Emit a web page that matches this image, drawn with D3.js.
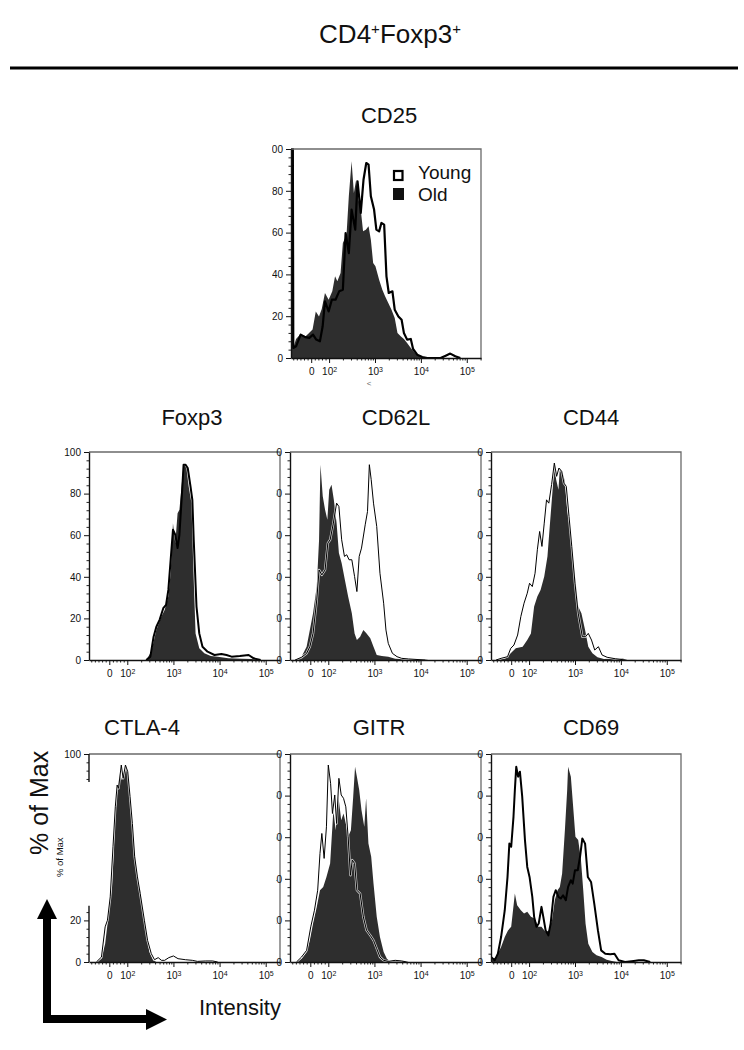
<!DOCTYPE html>
<html><head><meta charset="utf-8">
<script src="https://cdn.jsdelivr.net/npm/d3@7"></script>
<style>body{margin:0;background:#fff} svg{display:block} text{font-family:"Liberation Sans",Arial,Helvetica,sans-serif}</style>
</head><body><svg id="c" width="744" height="1050"></svg>
<script>
// x values are positions on the biexponential display axis, in decades
// (10^2 -> 2, 10^3 -> 3 ...; the "0" tick sits at 1.61, linear region below 10^2); y = % of Max
const xTickPos = [1.61, 2, 3, 4, 5];
const xTickBase = ["0", "10", "10", "10", "10"];
const xTickExp = ["", "2", "3", "4", "5"];
const yTicks = [0, 20, 40, 60, 80, 100];
const panelTitles = ["CD25", "Foxp3", "CD62L", "CD44", "CTLA-4", "GITR", "CD69"];
const legendLabels = ["Young", "Old"];

const cd25Old = [[1.17,100],[1.22,100],[1.23,5.6],[1.28,9.1],[1.38,11.5],[1.49,10.4],[1.58,12.3],[1.64,13.6],[1.71,22.3],[1.78,19.9],[1.84,23.4],[1.91,31.1],[1.99,27.9],[2.07,31.9],[2.13,39.1],[2.18,36.7],[2.25,40.7],[2.30,55.0],[2.38,59.0],[2.43,77.4],[2.49,94.1],[2.54,79.0],[2.59,85.3],[2.64,75.8],[2.69,71.0],[2.74,60.6],[2.80,61.4],[2.86,63.0],[2.91,56.6],[2.96,45.5],[3.01,43.9],[3.09,37.5],[3.16,32.7],[3.22,29.5],[3.29,26.3],[3.36,23.1],[3.43,19.1],[3.49,12.0],[3.56,10.4],[3.63,9.1],[3.70,7.2],[3.78,4.8],[3.88,2.1],[3.99,0.5],[4.10,0]];
const cd25Young = [[1.17,100],[1.21,100],[1.22,4.8],[1.28,5.6],[1.38,11.2],[1.48,10],[1.57,9.6],[1.65,11.2],[1.72,8.8],[1.80,8],[1.86,15.2],[1.91,27.1],[1.99,22.3],[2.06,27.9],[2.14,27.9],[2.22,31.9],[2.30,32.7],[2.36,59.8],[2.43,50.2],[2.49,71],[2.57,61.4],[2.62,84.5],[2.69,69.4],[2.75,85.3],[2.81,93.3],[2.86,92.5],[2.91,77.4],[2.98,71],[3.03,61.4],[3.09,60.6],[3.14,64.6],[3.20,63.8],[3.25,39.1],[3.30,31.1],[3.38,31.9],[3.43,23.1],[3.51,19.9],[3.58,18.3],[3.63,12],[3.70,8.8],[3.78,9.1],[3.83,4.3],[3.92,1.6],[4.03,0.5],[4.14,0],[4.43,0],[4.54,1.1],[4.64,2.1],[4.75,0.8],[4.86,0]];

const foxp3Old = [[2.41,0],[2.52,4],[2.63,14.4],[2.74,20.9],[2.81,24],[2.89,30.5],[2.94,41.7],[2.99,65.8],[3.04,56],[3.09,70.6],[3.13,72.2],[3.19,86.7],[3.22,93.9],[3.28,92.3],[3.33,83.5],[3.39,75.4],[3.43,45],[3.48,12.8],[3.56,5.6],[3.67,3.2],[3.81,1.9],[3.96,1.6],[4.19,0.8],[4.48,0.6],[4.70,0.5],[4.85,0]];
const foxp3Young = [[2.41,0],[2.50,1.6],[2.57,11.2],[2.63,16],[2.70,19.3],[2.78,24.9],[2.84,26.5],[2.89,33.7],[2.94,48.2],[2.99,62.6],[3.04,60.2],[3.09,53.8],[3.13,60.2],[3.19,81.9],[3.22,93.9],[3.26,93.9],[3.31,92.3],[3.37,83.5],[3.41,77],[3.44,57.8],[3.50,25.7],[3.56,12.8],[3.63,6.4],[3.74,4],[3.89,2.4],[4.04,2.9],[4.15,2.4],[4.26,1.6],[4.44,1.9],[4.63,2.4],[4.74,0.8],[4.89,0]];

const cd62lOld = [[1.28,0],[1.42,1.6],[1.53,6.4],[1.60,14.4],[1.67,22.5],[1.75,35.3],[1.80,57.8],[1.83,93.9],[1.88,78.7],[1.93,72.2],[1.98,67.4],[2.02,81.9],[2.07,84.3],[2.12,77],[2.18,65.8],[2.23,51.4],[2.29,46.5],[2.36,38.5],[2.43,30.5],[2.51,22.5],[2.57,12.8],[2.62,9.6],[2.69,11.2],[2.76,14.4],[2.83,12.8],[2.91,10.4],[2.98,6.4],[3.05,2.4],[3.16,1.9],[3.30,1.6],[3.45,0.6],[3.74,0.3],[4.10,0.3],[4.17,0]];
const cd62lYoung = [[1.28,0],[1.42,1.3],[1.53,3.2],[1.60,6.4],[1.67,12.8],[1.75,28.9],[1.80,43.3],[1.86,40.9],[1.93,43.3],[1.99,56.2],[2.04,57.8],[2.11,65.8],[2.18,75.4],[2.23,73.8],[2.29,57.8],[2.35,49.8],[2.40,50.6],[2.45,48.2],[2.51,48.2],[2.57,40.1],[2.62,32.9],[2.67,49.8],[2.72,53.8],[2.80,65],[2.85,71.4],[2.89,93.9],[2.93,86.7],[2.98,75.4],[3.05,64.2],[3.12,41.7],[3.20,27.3],[3.25,14.4],[3.30,8],[3.39,3.2],[3.49,1.6],[3.59,0.8],[3.74,0.5],[4.10,0]];

const cd44Old = [[1.31,0],[1.49,0.8],[1.60,3.2],[1.71,5.6],[1.86,6.4],[1.96,9.6],[2.04,12.8],[2.11,25.7],[2.18,30.5],[2.25,33.7],[2.33,40.1],[2.40,49.8],[2.45,64.2],[2.51,81.1],[2.55,93.9],[2.59,86.7],[2.64,81.9],[2.67,92.3],[2.72,90.7],[2.78,85.9],[2.83,72.2],[2.88,64.2],[2.94,51.4],[3.00,40.1],[3.07,25.7],[3.14,22.5],[3.22,14.4],[3.29,6.4],[3.38,3.2],[3.49,1.3],[3.63,0.5],[4.03,0.8],[4.14,0]];
const cd44Young = [[1.28,0],[1.39,0.8],[1.53,1.6],[1.60,5.6],[1.67,7.2],[1.75,12],[1.82,20.9],[1.89,27.3],[1.96,32.1],[2.01,36.9],[2.07,35.3],[2.13,41.7],[2.18,53],[2.23,61.8],[2.28,54.6],[2.33,65.8],[2.38,77],[2.43,75.4],[2.49,84.3],[2.55,94.7],[2.60,88.3],[2.65,92.3],[2.71,90.7],[2.76,85],[2.81,83.5],[2.87,69],[2.93,54.6],[3.00,36.9],[3.07,22.5],[3.16,11.2],[3.23,11.2],[3.29,12.8],[3.36,9.6],[3.43,4.8],[3.51,6.4],[3.59,2.4],[3.70,1.3],[3.88,0.6],[4.10,0]];

const ctla4Old = [[1.33,0],[1.44,1.6],[1.52,8.8],[1.59,21.7],[1.67,36.1],[1.74,69.8],[1.79,83.5],[1.84,90.7],[1.88,87.5],[1.93,89.1],[1.97,93.1],[2.01,92.3],[2.06,76.2],[2.11,63.4],[2.16,53],[2.22,39.3],[2.28,34.5],[2.33,24.9],[2.41,13.6],[2.48,4.8],[2.56,0.8],[2.63,0]];
const ctla4Young = [[1.33,0],[1.44,2.4],[1.52,16.9],[1.57,20.1],[1.63,31.3],[1.69,55.4],[1.74,74.6],[1.78,85.1],[1.81,83.5],[1.87,94.7],[1.91,88.3],[1.96,94.7],[2.01,91.5],[2.06,79.5],[2.11,66.6],[2.16,50.6],[2.22,40.9],[2.28,32.9],[2.37,20.1],[2.44,10.4],[2.52,4],[2.59,1.1],[2.67,2.1],[2.74,0.8],[2.81,0.8],[2.90,2.1],[3.00,2.9],[3.10,1.6],[3.26,1.1],[3.41,0.8],[3.52,0.3],[3.70,0.5],[3.85,0.5],[3.96,0]];

const gitrOld = [[1.31,0],[1.42,1.6],[1.53,4.8],[1.60,10.4],[1.67,18.5],[1.75,26.5],[1.82,34.5],[1.89,36.1],[1.96,40.9],[2.04,47.4],[2.11,73],[2.16,63.4],[2.22,79.5],[2.28,68.2],[2.33,71.4],[2.38,66.6],[2.43,60.2],[2.49,63.4],[2.54,79.5],[2.58,93.9],[2.62,89.1],[2.67,82.7],[2.72,73],[2.78,65],[2.82,78.7],[2.87,57],[2.93,50.6],[2.98,37.7],[3.05,21.7],[3.12,12],[3.20,4.8],[3.27,1.6],[3.34,0.3],[3.41,0.8],[3.67,0.5],[3.74,0]];
const gitrYoung = [[1.31,0],[1.42,2.4],[1.53,5.6],[1.62,16.9],[1.70,24.9],[1.77,34.5],[1.82,52.2],[1.86,61.8],[1.91,49.8],[1.96,65],[2.00,94.7],[2.05,85.9],[2.09,71.4],[2.14,80.3],[2.18,66.6],[2.23,88.3],[2.28,80.3],[2.33,78.7],[2.38,74.6],[2.43,60.2],[2.48,41.7],[2.52,49],[2.57,47.4],[2.62,34.5],[2.69,32.9],[2.76,21.7],[2.83,15.2],[2.91,12.8],[2.98,10.4],[3.05,6.4],[3.12,2.4],[3.20,0.8],[3.30,0.3],[3.45,0.8],[3.59,0.5],[3.70,0]];

const cd69Old = [[1.17,0.8],[1.28,2.4],[1.39,7.2],[1.47,12],[1.54,15.2],[1.61,16.9],[1.69,32.9],[1.74,27.3],[1.82,24.9],[1.89,23.3],[1.96,24.1],[2.04,21.7],[2.12,20.9],[2.20,16.9],[2.27,16.9],[2.36,14.4],[2.43,15.2],[2.50,20.1],[2.56,29.7],[2.62,34.5],[2.67,36.1],[2.72,42.5],[2.78,63.4],[2.83,82.7],[2.85,93.9],[2.91,89.1],[2.96,74.6],[3.01,60.2],[3.07,58.6],[3.13,49],[3.18,34.5],[3.23,18.5],[3.29,8.8],[3.38,4.8],[3.47,3.2],[3.58,2.4],[3.69,1.1],[3.80,0.5],[3.91,0]];
const cd69Young = [[1.17,2.4],[1.25,0.8],[1.32,4],[1.39,12],[1.47,24.9],[1.53,40.9],[1.57,57],[1.61,55.4],[1.66,69.8],[1.69,82.7],[1.72,93.9],[1.76,89.1],[1.80,91.5],[1.85,79.5],[1.91,58.6],[1.96,45.7],[2.01,40.9],[2.07,31.3],[2.11,21.7],[2.16,16.9],[2.21,18.5],[2.27,26.5],[2.31,21.7],[2.36,15.2],[2.42,12.8],[2.47,18.5],[2.53,31.3],[2.58,34.5],[2.64,31.3],[2.69,30.5],[2.74,32.1],[2.80,29.7],[2.85,36.1],[2.91,39.3],[2.95,37.7],[3.00,44.1],[3.06,44.1],[3.11,50.6],[3.16,59.4],[3.22,56.9],[3.28,40.9],[3.35,38.5],[3.42,28.1],[3.50,15.2],[3.57,5.6],[3.66,4],[3.77,3.7],[3.86,4],[3.95,0.8],[4.09,0],[4.28,0.5],[4.39,0.8],[4.50,0.8],[4.64,0]];

// ---------- drawing ----------
const FONT = '"Liberation Sans", Arial, Helvetica, sans-serif';
const fillColor = "#2e2e2e";
const xMin = 1.17, xMax = 5.31;
const xMinor = [];
for (let k = -5; k <= 4; k++) if (k !== 0) xMinor.push(1.61 + k * 0.0782);
for (let n = 2; n <= 4; n++) for (let m = 2; m <= 9; m++) xMinor.push(n + Math.log10(m));
xMinor.push(5 + Math.log10(2));
const yMinor = d3.range(0, 101, 4).filter(v => v % 20 !== 0);

const svg = d3.select("#c");
svg.append("rect").attr("width", 744).attr("height", 1050).attr("fill", "#fff");

// main title and rule
const tt = svg.append("text").attr("x", 390).attr("y", 43).attr("text-anchor", "middle")
  .attr("font-size", 26).attr("fill", "#111");
tt.append("tspan").text("CD4");
tt.append("tspan").attr("dy", -9).attr("font-size", 15).text("+");
tt.append("tspan").attr("dy", 9).text("Foxp3");
tt.append("tspan").attr("dy", -9).attr("font-size", 15).text("+");
svg.append("line").attr("x1", 10).attr("x2", 738).attr("y1", 68).attr("y2", 68)
  .attr("stroke", "#000").attr("stroke-width", 3);

const panels = [
  {old: cd25Old,  young: cd25Young,  left: 291, top: 149, w: 190, h: 209, tx: 389, ty: 123, lw: 2.2, clipPad: 19},
  {old: foxp3Old, young: foxp3Young, left: 89,  top: 452, w: 191, h: 208, tx: 192, ty: 425, lw: 2,   clipPad: 40},
  {old: cd62lOld, young: cd62lYoung, left: 290, top: 452, w: 191, h: 208, tx: 396, ty: 425, lw: 1,   clipPad: 14, halo: true},
  {old: cd44Old,  young: cd44Young,  left: 491, top: 452, w: 190, h: 208, tx: 591, ty: 425, lw: 1,   clipPad: 14, halo: true},
  {old: ctla4Old, young: ctla4Young, left: 89,  top: 754, w: 191, h: 208, tx: 142, ty: 735, lw: 1,   clipPad: 40, halo: true, yGap: [27, 86.5]},
  {old: gitrOld,  young: gitrYoung,  left: 290, top: 754, w: 191, h: 208, tx: 379, ty: 735, lw: 1,   clipPad: 14, halo: true},
  {old: cd69Old,  young: cd69Young,  left: 491, top: 754, w: 190, h: 208, tx: 591, ty: 735, lw: 2,   clipPad: 14}
];

panels.forEach((p, i) => {
  const x = d3.scaleLinear().domain([xMin, xMax]).range([p.left, p.left + p.w]);
  const y = d3.scaleLinear().domain([0, 100]).range([p.top + p.h, p.top]);

  svg.append("text").attr("x", p.tx).attr("y", p.ty).attr("text-anchor", "middle")
    .attr("font-size", 22).attr("fill", "#111").text(panelTitles[i]);

  const cid = "clipA" + i, pid = "clipP" + i;
  const defs = svg.append("defs");
  defs.append("clipPath").attr("id", cid).append("rect")
    .attr("x", p.left - p.clipPad).attr("y", p.top - 8)
    .attr("width", p.w + p.clipPad + 3).attr("height", p.h + 40);
  defs.append("clipPath").attr("id", pid).append("rect")
    .attr("x", p.left).attr("y", p.top - 1).attr("width", p.w).attr("height", p.h + 1);

  const g = svg.append("g").attr("clip-path", `url(#${cid})`);
  const pg = g.append("g").attr("clip-path", `url(#${pid})`);

  pg.append("path").datum(p.old)
    .attr("d", d3.area().x(d => x(d[0])).y0(y(0)).y1(d => y(d[1])))
    .attr("fill", fillColor);
  const line = d3.line().x(d => x(d[0])).y(d => y(d[1]));
  if (p.halo) pg.append("path").datum(p.young).attr("d", line).attr("fill", "none")
    .attr("stroke", "#fff").attr("stroke-width", 2.4).attr("stroke-opacity", 0.75).attr("stroke-linejoin", "round");
  pg.append("path").datum(p.young).attr("d", line).attr("fill", "none")
    .attr("stroke", "#000").attr("stroke-width", p.lw).attr("stroke-linejoin", "round");

  // frame top/right
  g.append("path").attr("d", `M${p.left},${p.top}H${p.left + p.w}V${p.top + p.h}`)
    .attr("fill", "none").attr("stroke", "#6a6a6a").attr("stroke-width", 1.3);

  // x axis
  const xb = p.top + p.h;
  g.append("g").attr("transform", `translate(0,${xb})`).attr("color", "#222")
    .call(d3.axisBottom(x).tickValues(xMinor).tickSize(2.5).tickFormat(() => ""))
    .call(s => s.select(".domain").remove());
  const xa = g.append("g").attr("transform", `translate(0,${xb})`).attr("color", "#111")
    .attr("font-size", 9.5).attr("font-family", FONT)
    .call(d3.axisBottom(x).tickValues(xTickPos).tickSize(5).tickSizeOuter(0).tickPadding(5));
  xa.select(".domain").attr("stroke-width", 1.4);
  xa.selectAll(".tick text").each(function (d) {
    const j = xTickPos.indexOf(d);
    const s = d3.select(this);
    s.text(null);
    s.append("tspan").text(xTickBase[j]);
    if (xTickExp[j]) s.append("tspan").attr("dy", "-0.45em").attr("font-size", "7px").text(xTickExp[j]);
  });

  // y axis
  const inGap = v => p.yGap && v > p.yGap[0] && v < p.yGap[1];
  g.append("g").attr("transform", `translate(${p.left},0)`).attr("color", "#222")
    .call(d3.axisLeft(y).tickValues(yMinor.filter(v => !inGap(v))).tickSize(2.5).tickFormat(() => ""))
    .call(s => s.select(".domain").remove());
  const ya = g.append("g").attr("transform", `translate(${p.left},0)`).attr("color", "#111")
    .attr("font-size", 9.5).attr("font-family", FONT)
    .call(d3.axisLeft(y).tickValues(yTicks.filter(v => !inGap(v))).tickSize(5).tickSizeOuter(0).tickPadding(3));
  ya.select(".domain").attr("stroke-width", 1.4);
  if (p.yGap) {
    ya.select(".domain").remove();
    [[0, p.yGap[0]], [p.yGap[1], 100]].forEach(seg => {
      g.append("line").attr("x1", p.left).attr("x2", p.left)
        .attr("y1", y(seg[0])).attr("y2", y(seg[1]))
        .attr("stroke", "#111").attr("stroke-width", 1.4);
    });
  }
});

// legend (CD25 panel)
svg.append("rect").attr("x", 394).attr("y", 171).attr("width", 8.5).attr("height", 9)
  .attr("fill", "#fff").attr("stroke", "#000").attr("stroke-width", 2.2);
svg.append("rect").attr("x", 393).attr("y", 188).attr("width", 11).attr("height", 12).attr("fill", "#111");
svg.append("text").attr("x", 418).attr("y", 179).attr("font-size", 19).attr("fill", "#111").text(legendLabels[0]);
svg.append("text").attr("x", 418).attr("y", 200.5).attr("font-size", 19).attr("fill", "#111").text(legendLabels[1]);
svg.append("text").attr("x", 369).attr("y", 386).attr("text-anchor", "middle").attr("font-size", 8).attr("fill", "#666").text("<");

// axis-direction labels and arrows
svg.append("text").attr("transform", "translate(48,855) rotate(-90)").attr("font-size", 25)
  .attr("fill", "#111").text("% of Max");
svg.append("text").attr("transform", "translate(63,877) rotate(-90)").attr("font-size", 9.5)
  .attr("fill", "#111").text("% of Max");
svg.append("path").attr("d", "M47,916V1019H149").attr("fill", "none").attr("stroke", "#000")
  .attr("stroke-width", 8).attr("stroke-linejoin", "miter");
svg.append("path").attr("d", "M37,919L47,899L57,919Z").attr("fill", "#000");
svg.append("path").attr("d", "M146,1009L167,1019.5L146,1030Z").attr("fill", "#000");
svg.append("text").attr("x", 199).attr("y", 1015).attr("font-size", 22).attr("fill", "#111").text("Intensity");
</script></body></html>
